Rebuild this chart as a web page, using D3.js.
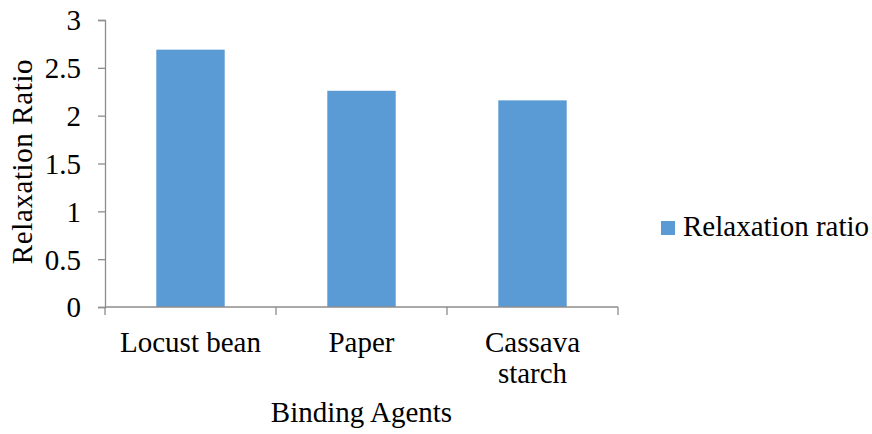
<!DOCTYPE html>
<html>
<head>
<meta charset="utf-8">
<script src="https://cdn.jsdelivr.net/npm/d3@7"></script>
<style>
  html, body { margin: 0; padding: 0; background: #fff; }
  svg text { font-family: "Palatino Linotype", "Book Antiqua", Palatino, "Liberation Serif", serif; fill: #000; }
</style>
</head>
<body>
<svg id="chart" width="872" height="434"></svg>
<script>
// Relaxation ratio of briquettes by binding agent
const categories = ["Locust bean", "Paper", "Cassava starch"];
const categoryLines = [["Locust bean"], ["Paper"], ["Cassava", "starch"]];
const relaxationRatio = [2.69, 2.26, 2.16];
const yTicks = [0, 0.5, 1, 1.5, 2, 2.5, 3];
const seriesName = "Relaxation ratio";
const xTitle = "Binding Agents";
const yTitle = "Relaxation Ratio";

const svg = d3.select("#chart");
const plot = { left: 105, right: 618, top: 20, bottom: 307 };
const axisColor = "#8c8c8c";
const barColor = "#5b9bd5";
const fontSize = 29;
const serif = '"Palatino Linotype", "Book Antiqua", Palatino, "Liberation Serif", serif';

const x = d3.scaleBand()
  .domain(categories)
  .range([plot.left, plot.right])
  .paddingInner(0.6)
  .paddingOuter(0.3);

const y = d3.scaleLinear()
  .domain([0, 3])
  .range([plot.bottom, plot.top]);

// bars
svg.append("g")
  .selectAll("rect")
  .data(categories)
  .join("rect")
  .attr("x", d => x(d))
  .attr("width", x.bandwidth())
  .attr("y", (d, i) => y(relaxationRatio[i]))
  .attr("height", (d, i) => y(0) - y(relaxationRatio[i]))
  .attr("fill", barColor);

// y axis
const yAxis = svg.append("g")
  .attr("transform", `translate(${plot.left},0)`)
  .call(d3.axisLeft(y).tickValues(yTicks).tickSize(7).tickPadding(17).tickFormat(d3.format("")));
yAxis.attr("font-family", serif).attr("font-size", fontSize);
yAxis.select(".domain").attr("stroke", axisColor).attr("stroke-width", 1.3);
yAxis.selectAll(".tick line").attr("stroke", axisColor).attr("stroke-width", 1.3);
yAxis.selectAll(".tick text")
  .attr("dy", "0.34em");

// x axis: category boundaries carry tick marks
const step = x.step();
const boundaries = d3.range(categories.length + 1).map(i => plot.left + i * step);
const xAxisG = svg.append("g");
xAxisG.append("line")
  .attr("x1", plot.left).attr("x2", plot.right)
  .attr("y1", y(0)).attr("y2", y(0))
  .attr("stroke", axisColor).attr("stroke-width", 1.3);
xAxisG.selectAll("line.tick")
  .data(boundaries)
  .join("line")
  .attr("class", "tick")
  .attr("x1", d => d).attr("x2", d => d)
  .attr("y1", y(0)).attr("y2", y(0) + 8)
  .attr("stroke", axisColor).attr("stroke-width", 1.3);

// category labels
const labels = svg.append("g").selectAll("text")
  .data(categories)
  .join("text")
  .attr("x", d => x(d) + x.bandwidth() / 2)
  .attr("y", 352)
  .attr("text-anchor", "middle")
  .style("font-size", fontSize + "px");
labels.each(function(d, i) {
  d3.select(this).selectAll("tspan")
    .data(categoryLines[i])
    .join("tspan")
    .attr("x", x(d) + x.bandwidth() / 2)
    .attr("dy", (t, j) => j === 0 ? 0 : 31)
    .text(t => t);
});

// axis titles
svg.append("text")
  .attr("x", (plot.left + plot.right) / 2)
  .attr("y", 422)
  .attr("text-anchor", "middle")
  .style("font-size", fontSize + "px")
  .text(xTitle);

svg.append("text")
  .attr("transform", `translate(32,${(plot.top + plot.bottom) / 2 - 2}) rotate(-90)`)
  .attr("text-anchor", "middle")
  .style("font-size", fontSize + "px")
  .style("letter-spacing", "0.6px")
  .text(yTitle);

// legend
const legend = svg.append("g").attr("transform", "translate(661,221)");
legend.append("rect")
  .attr("width", 14).attr("height", 14)
  .attr("fill", barColor);
legend.append("text")
  .attr("x", 22).attr("y", 15)
  .style("font-size", fontSize + "px")
  .text(seriesName);
</script>
</body>
</html>
